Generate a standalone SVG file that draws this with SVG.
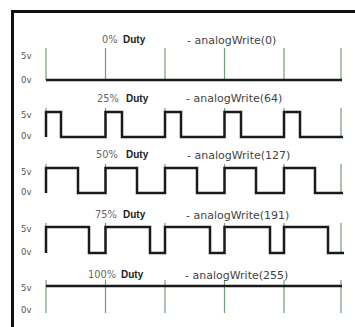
<svg xmlns="http://www.w3.org/2000/svg" width="355" height="327" viewBox="0 0 355 327">
<style>
.wave{fill:none;stroke:#1a1a1a;stroke-width:2.5;stroke-linejoin:miter}
.grid{stroke:#6f9e78;stroke-width:1.2}
.lv{font-family:"DejaVu Sans",sans-serif;font-size:8.5px;fill:#555}
.pc{font-family:"DejaVu Sans",sans-serif;font-size:9.8px;fill:#666}
.du{font-family:"Liberation Sans",Arial,sans-serif;font-size:10px;font-weight:bold;fill:#222}
.aw{font-family:"DejaVu Sans",sans-serif;font-size:11px;fill:#444}
</style>
<rect width="355" height="327" fill="#ffffff"/>
<g id="frame" fill="none" stroke="#111" stroke-width="3">
<path d="M355,11.5 H12.5 V327"/>
</g>
<g id="row-0">
<g class="grid">
<line x1="46" y1="48" x2="46" y2="80"/><line x1="105.5" y1="48" x2="105.5" y2="80"/><line x1="165" y1="48" x2="165" y2="80"/><line x1="224.5" y1="48" x2="224.5" y2="80"/><line x1="284" y1="48" x2="284" y2="80"/><line x1="341" y1="48" x2="341" y2="80"/>
</g>
<path class="wave" d="M46,80 H342"/>
<text class="lv" x="21" y="59">5v</text><text class="lv" x="21" y="83">0v</text>
<text class="pc" x="102" y="43">0%</text><text class="du" x="123" y="43">Duty</text>
<text class="aw" x="187" y="44">- analogWrite(0)</text>
</g>
<g id="row-25">
<g class="grid">
<line x1="46" y1="108" x2="46" y2="137"/><line x1="105.5" y1="108" x2="105.5" y2="137"/><line x1="165" y1="108" x2="165" y2="137"/><line x1="224.5" y1="108" x2="224.5" y2="137"/><line x1="284" y1="108" x2="284" y2="137"/><line x1="341" y1="108" x2="341" y2="137"/>
</g>
<path class="wave" d="M46,137 V112 H61 V137 H105.5 V112 H122 V137 H165 V112 H181 V137 H224.5 V112 H241 V137 H284 V112 H300 V137 H343"/>
<text class="lv" x="21" y="118">5v</text><text class="lv" x="21" y="139">0v</text>
<text class="pc" x="97" y="101.5">25%</text><text class="du" x="126" y="101.5">Duty</text>
<text class="aw" x="186" y="102">- analogWrite(64)</text>
</g>
<g id="row-50">
<g class="grid">
<line x1="46" y1="164" x2="46" y2="193"/><line x1="105.5" y1="164" x2="105.5" y2="193"/><line x1="165" y1="164" x2="165" y2="193"/><line x1="224.5" y1="164" x2="224.5" y2="193"/><line x1="284" y1="164" x2="284" y2="193"/><line x1="341" y1="164" x2="341" y2="193"/>
</g>
<path class="wave" d="M46,193 V168 H78 V193 H105.5 V168 H137 V193 H165 V168 H197 V193 H224.5 V168 H256 V193 H284 V168 H315 V193 H343"/>
<text class="lv" x="21" y="175">5v</text><text class="lv" x="21" y="195">0v</text>
<text class="pc" x="96" y="158">50%</text><text class="du" x="126" y="158">Duty</text>
<text class="aw" x="187" y="159">- analogWrite(127)</text>
</g>
<g id="row-75">
<g class="grid">
<line x1="46" y1="223" x2="46" y2="253"/><line x1="105.5" y1="223" x2="105.5" y2="253"/><line x1="165" y1="223" x2="165" y2="253"/><line x1="224.5" y1="223" x2="224.5" y2="253"/><line x1="284" y1="223" x2="284" y2="253"/><line x1="341" y1="223" x2="341" y2="253"/>
</g>
<path class="wave" d="M46,253 V227 H89 V253 H105.5 V227 H150 V253 H165 V227 H210 V253 H224.5 V227 H270 V253 H284 V227 H328 V253 H344"/>
<text class="lv" x="21" y="232">5v</text><text class="lv" x="21" y="255">0v</text>
<text class="pc" x="95" y="218">75%</text><text class="du" x="123" y="218">Duty</text>
<text class="aw" x="186" y="219">- analogWrite(191)</text>
</g>
<g id="row-100">
<g class="grid">
<line x1="46" y1="280" x2="46" y2="313"/><line x1="105.5" y1="280" x2="105.5" y2="313"/><line x1="165" y1="280" x2="165" y2="313"/><line x1="224.5" y1="280" x2="224.5" y2="313"/><line x1="284" y1="280" x2="284" y2="313"/><line x1="341" y1="280" x2="341" y2="313"/>
</g>
<path class="wave" d="M46,286 H342"/>
<text class="lv" x="21" y="291">5v</text><text class="lv" x="21" y="313">0v</text>
<text class="pc" x="88" y="278">100%</text><text class="du" x="121" y="278">Duty</text>
<text class="aw" x="185" y="279">- analogWrite(255)</text>
</g>
</svg>
